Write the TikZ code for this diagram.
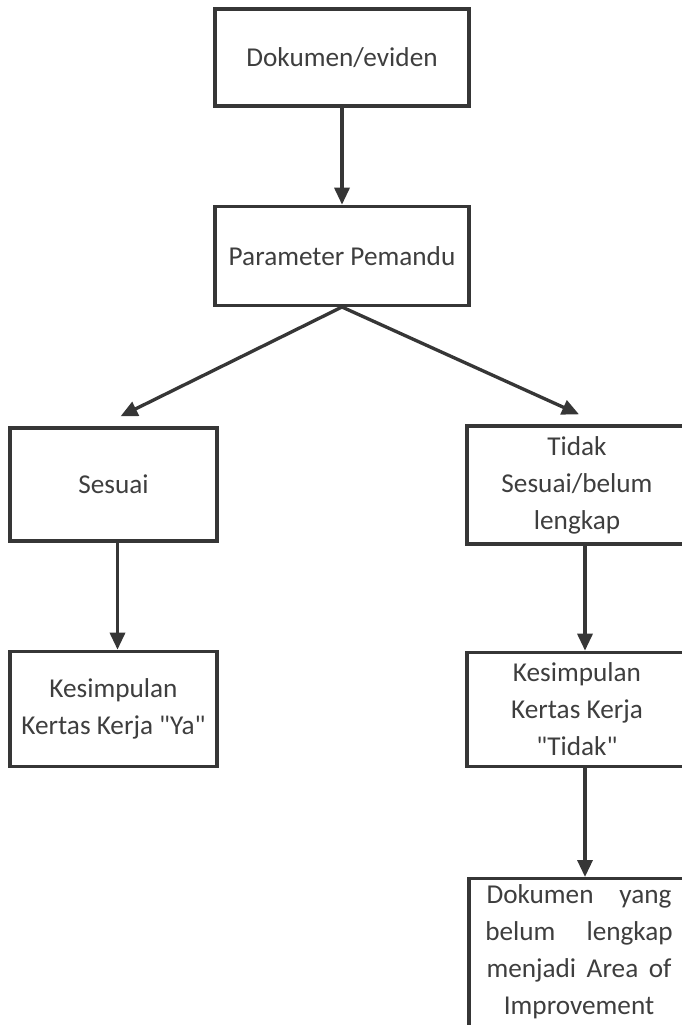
\documentclass[tikz,border=0pt]{standalone}
\usepackage{fontspec}
\setmainfont{Carlito}
\usetikzlibrary{arrows.meta, positioning}

\definecolor{garis}{HTML}{363636}
\definecolor{tulisan}{HTML}{3E3E3E}

\tikzset{
    kotak/.style={draw=garis, line width=1.9pt, rectangle, align=center,
        text=tulisan, font=\fontsize{15.5}{21}\selectfont},
    panah/.style={draw=garis, line width=1.9pt,
        -{Triangle[length=0.34cm, width=0.3cm]}}
}

\begin{document}
\begin{tikzpicture}[node distance=2cm, auto]
    \useasboundingbox (0,0) rectangle (13.62,-20.5);

    \node (dok) [kotak, minimum width=5.08cm, minimum height=1.94cm] at (6.84,-1.15) {Dokumen/eviden};
    \node (param) [below=1.94cm of dok, kotak, minimum width=5.08cm, minimum height=1.98cm] {Parameter Pemandu};

    \draw[panah] (dok) -- (param);

    \node (ses) [kotak, minimum width=4.14cm, minimum height=2.26cm] at (2.27,-9.69) {Sesuai};
    \node (tdk) [kotak, minimum width=4.4cm, minimum height=2.36cm] at (11.54,-9.7) {Tidak\\Sesuai/belum\\lengkap};

    \draw[panah] (param.south) -- ([xshift=0.14cm, yshift=0.2cm]ses.north);
    \draw[panah] (param.south) -- ([xshift=0.04cm, yshift=0.2cm]tdk.north);

    \node (ya) [below=2.14cm of ses, kotak, minimum width=4.14cm, minimum height=2.3cm] {Kesimpulan\\Kertas Kerja \textquotedbl Ya\textquotedbl};
    \node (tidak) [below=2.1cm of tdk, kotak, minimum width=4.4cm, minimum height=2.28cm] {Kesimpulan\\Kertas Kerja\\\textquotedbl Tidak\textquotedbl};

    \draw[panah] ([xshift=0.08cm]ses.south) -- ([xshift=0.08cm]ya.north);
    \draw[panah] ([xshift=0.16cm]tdk.south) -- ([xshift=0.16cm]tidak.north);

    \node (aoi) [below=2.18cm of tidak, xshift=0.04cm, kotak, minimum width=4.4cm, text depth=0.9cm]
        {\makebox[3.7cm][s]{Dokumen yang}\\\makebox[3.75cm][s]{belum lengkap}\\\makebox[3.7cm][s]{menjadi Area of}\\Improvement};

    \draw[panah] ([xshift=0.16cm]tidak.south) -- ([xshift=0.16cm]tidak.south |- aoi.north);

\end{tikzpicture}
\end{document}
